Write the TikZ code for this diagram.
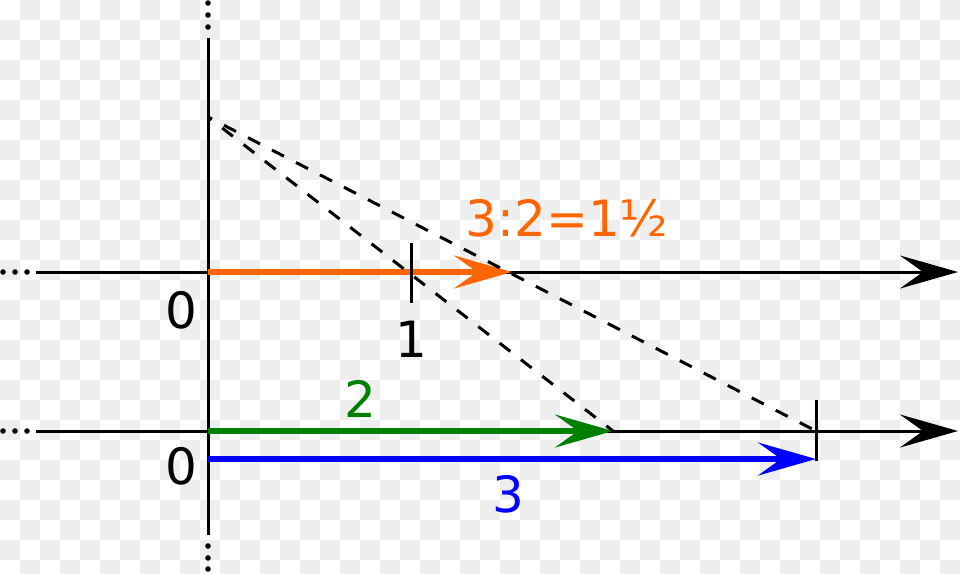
\documentclass[tikz,border=0pt]{standalone}
\usepackage{fontspec}
\setmainfont{DejaVu Sans}
\usetikzlibrary{arrows.meta}
\definecolor{chk}{RGB}{238,238,238}
\definecolor{myorange}{RGB}{255,102,0}
\definecolor{mygreen}{RGB}{0,128,0}
\definecolor{myblue}{RGB}{0,0,255}
\tikzset{
  headtip/.tip={Stealth[length=58pt,width=33pt,inset=23pt]},
  axisline/.style={line width=3pt, -headtip},
  plainline/.style={line width=3pt},
  vecline/.style={line width=6pt, -headtip},
  ticklinestyle/.style={line width=3pt},
  guide/.style={line width=3pt, dash pattern=on 13.5pt off 13.5pt, dash phase=9pt},
  lbl/.style={font=\fontsize{50pt}{60pt}\selectfont, inner sep=0pt, anchor=base},
}
\begin{document}
\begin{tikzpicture}[x=1pt,y=-1pt]
\useasboundingbox (0,0) rectangle (960,573);
% checkerboard background
\begin{scope}
\clip (0,0) rectangle (960,573);
\fill[white] (0,0) rectangle (960,573);
\foreach \j in {0,...,28}{
  \foreach \i in {0,...,47}{
    \pgfmathtruncatemacro\chkp{mod(\i+\j,2)}
    \ifnum\chkp=1 \fill[chk] (20*\i,20*\j) rectangle ++(20,20); \fi
  }
}
\end{scope}
% coordinates
\coordinate (VT) at (208,38);
\coordinate (VB) at (208,535);
\coordinate (L1) at (36,272);
\coordinate (E1) at (958,272);
\coordinate (L2) at (36,431);
\coordinate (E2) at (958,431);
\coordinate (O1) at (208,272);
\coordinate (O2) at (208,431);
\coordinate (B0) at (208,459);
\coordinate (A15) at (512,272);
\coordinate (G2) at (613,431);
\coordinate (B3) at (816,459);
\coordinate (T1a) at (411,243);
\coordinate (T1b) at (411,303);
\coordinate (T3a) at (816,400);
\coordinate (T3b) at (816,461);
\coordinate (T3) at (816,431);
\coordinate (P) at (208,117);
% axes
\draw[plainline] (VT) -- (VB);
\draw[axisline] (L1) -- (E1);
\draw[axisline] (L2) -- (E2);
% dots
\foreach \y in {3,15,27,546,558,569} \fill (208,\y) circle[radius=2.8];
\foreach \x in {3,15,27} {\fill (\x,272) circle[radius=2.8]; \fill (\x,431) circle[radius=2.8];}
% vectors
\draw[vecline, myorange] (O1) -- (A15);
\draw[vecline, mygreen] (O2) -- (G2);
\draw[vecline, myblue] (B0) -- (B3);
% ticks
\draw[ticklinestyle] (T1a) -- (T1b);
\draw[ticklinestyle] (T3a) -- (T3b);
% guides
\draw[guide] (P) -- (G2);
\draw[guide] (P) -- (T3);
% labels
\node[lbl] (z1) at (181,328) {0};
\node[lbl] (z2) at (181,484) {0};
\node[lbl] (one) at (411,357) {1};
\node[lbl, text=mygreen] (two) at (360,417) {2};
\node[lbl, text=myblue] (three) at (508,512) {3};
\node[lbl, text=myorange] (ratio) at (567,236) {3:2=1½};
\end{tikzpicture}
\end{document}
